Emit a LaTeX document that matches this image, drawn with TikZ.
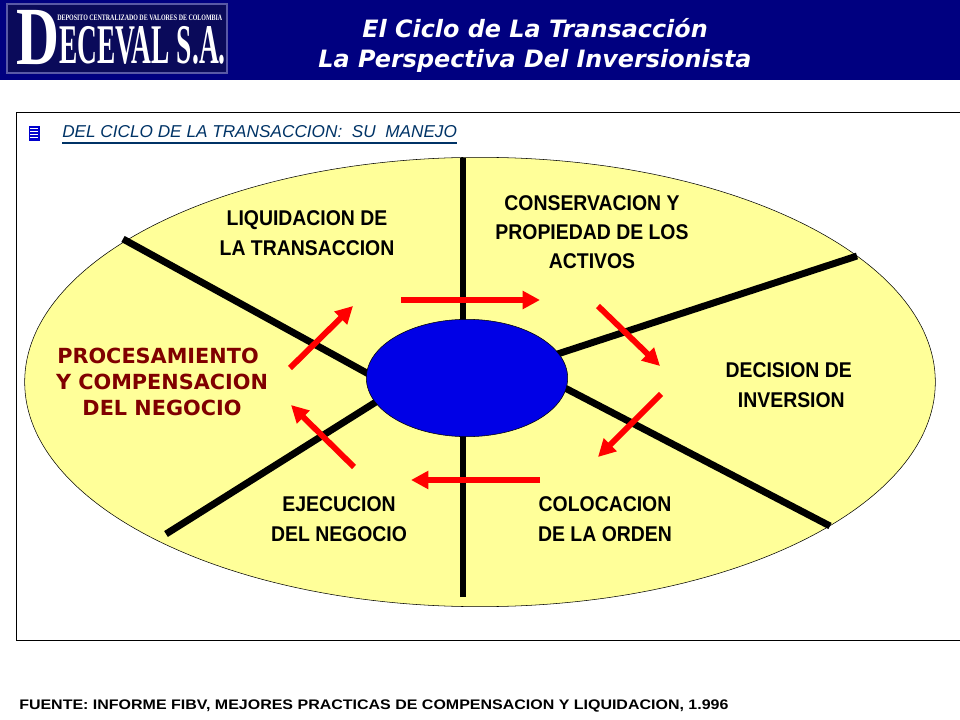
\documentclass[tikz,border=0pt]{standalone}
\usepackage{fontspec}
\setmainfont{Liberation Sans}
\newfontfamily\narrowfont[FakeStretch=0.91]{Liberation Sans}
\newfontfamily\widefont{DejaVu Sans}
\newfontfamily\sourcefont[FakeStretch=1.153]{Liberation Sans}
\newfontfamily\logofont[FakeStretch=0.49]{Liberation Serif}
\newfontfamily\logoinitial[FakeStretch=0.72]{Liberation Serif}
\usetikzlibrary{shapes.geometric, arrows.meta, positioning, calc}
\definecolor{navybar}{HTML}{000080}
\definecolor{logoblue}{HTML}{0A0A5A}
\definecolor{paleyellow}{HTML}{FFFF99}
\definecolor{hubblue}{HTML}{0000E6}
\definecolor{labelred}{HTML}{800000}
\definecolor{headblue}{HTML}{003366}
\tikzset{
  sector/.style={font=\narrowfont\bfseries\fontsize{16}{22}\selectfont, align=center, text=black},
  redsector/.style={font=\widefont\bfseries\fontsize{15.6}{19.5}\selectfont, align=center, text=labelred},
  spoke/.style={line width=5.2pt, black},
  flow/.style={line width=4.4pt, red, -{Triangle[length=13pt, width=13pt]}},
}
\begin{document}
\begin{tikzpicture}[x=0.75pt, y=-0.75pt]
\useasboundingbox (0,0) rectangle (960,720);
% Header band
\fill[navybar] (0,0) rectangle (960,80);
\node[font=\widefont\bfseries\itshape\fontsize{17.9}{22}\selectfont, text=white, align=center] (title) at (535,45.5) {El Ciclo de La Transacción\\La Perspectiva Del Inversionista};
% Logo
\fill[logoblue, draw=gray!70!blue, line width=1.5pt] (7,4) rectangle (227,73);
\node[font=\logoinitial\bfseries\fontsize{62}{62}\selectfont, text=white, inner sep=0pt, anchor=base west, text height=30pt] (logod) at (16,65) {D};
\node[font=\logofont\bfseries\fontsize{42}{42}\selectfont, text=white, inner sep=0pt, anchor=base west, text height=20pt] (logoname) at (59,64) {ECEVAL S.A.};
\node[font=\logoinitial\bfseries\fontsize{6.2}{6}\selectfont, text=white, inner sep=0pt, anchor=base west] (logotop) at (57,21) {DEPOSITO CENTRALIZADO DE VALORES DE COLOMBIA};
% Frame
\draw[black, line width=0.6pt] (16,112) rectangle (961,640);
% Bullet
\fill[blue!80!black] (29,126) rectangle (40,141);
\foreach \yy in {128,131,134,137} {
  \draw[white, line width=0.5pt] (30,\yy) -- (38,\yy);
}
\node[font=\itshape\fontsize{12.9}{16}\selectfont, text=headblue, anchor=base west, inner sep=0pt] (head) at (62,138) {DEL CICLO DE LA TRANSACCION:\ \ SU\ \ MANEJO};
\draw[headblue, line width=1.2pt] ($(head.base west)+(0,5)$) -- ($(head.base east)+(0,5)$);

% Plate
\node[draw=black, line width=0.4pt, fill=paleyellow, ellipse, minimum width=683pt, minimum height=337pt, inner sep=0pt] (plate) at (480,382) {};

% Spoke ends
\coordinate (top) at (463,158);
\coordinate (topin) at (463,340);
\coordinate (bottom) at (463,597);
\coordinate (bottomin) at (463,420);
\coordinate (upleft) at (123,239);
\coordinate (upleftin) at (385,383);
\coordinate (upright) at (857,256);
\coordinate (uprightin) at (530,363);
\coordinate (downright) at (830,526);
\coordinate (downrightin) at (540,375);
\coordinate (downleft) at (166,534);
\coordinate (downleftin) at (395,390);

% Spokes
\foreach \aa/\bb in {top/topin, bottom/bottomin, upleft/upleftin, upright/uprightin, downright/downrightin, downleft/downleftin} {
  \draw[spoke] (\aa) -- (\bb);
}

% Hub
\node[draw=black, line width=0.4pt, fill=hubblue, ellipse, minimum width=151pt, minimum height=88pt, inner sep=0pt] (hub) at (467,378) {};

% Sector labels
\node[sector] (liquidacion) at (307,233) {LIQUIDACION DE\\LA TRANSACCION};
\node[sector] (conservacion) at (592,232) {CONSERVACION Y\\PROPIEDAD DE LOS\\ACTIVOS};
\node[sector] (decision) at (790,385) {DECISION DE\hspace*{2pt}\\\hspace*{2pt}INVERSION};
\node[sector] (colocacion) at (605,519) {COLOCACION\\DE LA ORDEN};
\node[sector] (ejecucion) at (339,519) {EJECUCION\\DEL NEGOCIO};
\node[redsector] (procesamiento) at (162,382) {PROCESAMIENTO\hspace*{6pt}\\Y COMPENSACION\\DEL NEGOCIO};

% Flow arrow ends
\coordinate (fa1) at (401,300);
\coordinate (fa2) at (540,300);
\coordinate (fb1) at (598,306);
\coordinate (fb2) at (660,366);
\coordinate (fc1) at (661,394);
\coordinate (fc2) at (598,457);
\coordinate (fd1) at (540,480);
\coordinate (fd2) at (411,480);
\coordinate (fe1) at (354,467);
\coordinate (fe2) at (291,405);
\coordinate (ff1) at (290,368);
\coordinate (ff2) at (353,306);

% Red arrows
\foreach \aa/\bb in {fa1/fa2, fb1/fb2, fc1/fc2, fd1/fd2, fe1/fe2, ff1/ff2} {
  \draw[flow] (\aa) -- (\bb);
}

% Source line
\node[font=\sourcefont\bfseries\fontsize{10.4}{12}\selectfont, anchor=base west, inner sep=0pt] (source) at (19,709) {FUENTE: INFORME FIBV, MEJORES PRACTICAS DE COMPENSACION Y LIQUIDACION, 1.996};
\end{tikzpicture}
\end{document}
